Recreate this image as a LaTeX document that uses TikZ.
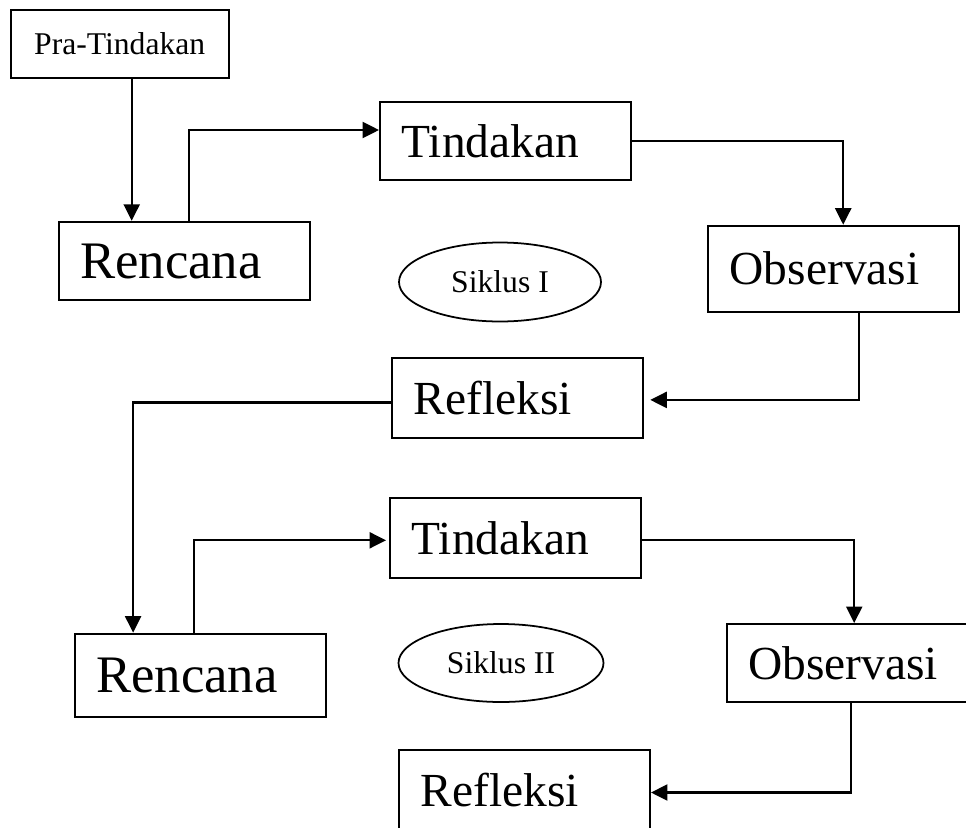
\documentclass[tikz,border=0pt]{standalone}
\usepackage{fontspec}
\setmainfont{Liberation Serif}
\usetikzlibrary{arrows.meta,shapes.geometric}
\tikzset{
	stage/.style={draw, line width=1.1pt, minimum height=1.6cm, inner xsep=0.43cm, inner ysep=0pt, text width=4.16cm, align=left, font=\fontsize{27}{27}\selectfont},
	startbox/.style={draw, line width=1.1pt, minimum width=4.36cm, minimum height=1.36cm, font=\fontsize{18}{18}\selectfont},
	siklus/.style={draw, ellipse, line width=1pt, inner sep=0pt, font=\fontsize{18}{18}\selectfont},
	arr/.style={line width=1.3pt, -{Triangle[length=0.33cm,width=0.32cm]}}
}

\begin{document}
\begin{tikzpicture}
			%%%%% START %%%%%
			\useasboundingbox (0, 0) rectangle (19.32, -16.54);
			
			\node[startbox] (pra) at (2.394, -0.88) {Pra-Tindakan};
			
			% siklus I
			\node[stage, minimum height=1.57cm, font=\fontsize{30}{30}\selectfont] (ren1) at (3.684, -5.22) {Rencana};
			\node[stage, minimum height=1.56cm] (tin1) at (10.11, -2.82) {Tindakan};
			\node[stage, minimum height=1.72cm] (obs1) at (16.674, -5.374) {Observasi};
			\node[stage, minimum height=1.6cm] (ref1) at (10.356, -7.958) {Refleksi};
			\node[siklus, minimum width=4.04cm, minimum height=1.58cm] (sik1) at (10.0, -5.64) {Siklus I};
			
			% siklus II
			\node[stage, minimum height=1.66cm, font=\fontsize{30}{30}\selectfont] (ren2) at (4.002, -13.502) {Rencana};
			\node[stage, minimum height=1.6cm] (tin2) at (10.31, -10.766) {Tindakan};
			\node[stage, minimum height=1.56cm] (obs2) at (17.044, -13.26) {Observasi};
			\node[stage, minimum height=1.6cm] (ref2) at (10.49, -15.8) {Refleksi};
			\node[siklus, minimum width=4.1cm, minimum height=1.56cm] (sik2) at (10.02, -13.26) {Siklus II};
			
			\draw[arr] ([xshift=0.24cm]pra.south) -- ([xshift=-1.05cm]ren1.north);
			\draw[arr] ([xshift=0.1cm]ren1.north) |- ([yshift=0.22cm]tin1.west);
			\draw[arr] (tin1.east) -| ([xshift=0.19cm]obs1.north);
			\draw[arr] ([xshift=0.51cm]obs1.south) |- ([xshift=0.12cm, yshift=-0.04cm]ref1.east);
			\draw[arr] ([yshift=-0.09cm]ref1.west) -| ([xshift=-1.34cm]ren2.north);
			
			\draw[arr] ([xshift=-0.12cm]ren2.north) |- ([xshift=-0.06cm, yshift=-0.04cm]tin2.west);
			\draw[arr] ([yshift=-0.03cm]tin2.east) -| ([xshift=0.04cm]obs2.north);
			\draw[arr] ([xshift=-0.03cm]obs2.south) |- ([yshift=-0.05cm]ref2.east);
			%%%%% END %%%%%
		\end{tikzpicture}
\end{document}
